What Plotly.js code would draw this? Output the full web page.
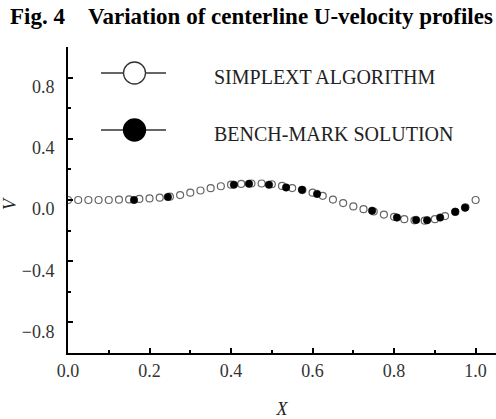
<!DOCTYPE html>
<html>
<head>
<meta charset="utf-8">
<script src="https://cdn.plot.ly/plotly-3.0.1.min.js"></script>
<style>html,body{margin:0;padding:0;background:#fff;}#chart{width:496px;height:419px;}</style>
</head>
<body>
<div id="chart"></div>
<script>
// ---- data ----
const seriesNames = ["SIMPLEXT ALGORITHM", "BENCH-MARK SOLUTION"];
const xSim = [0, 0.025, 0.05, 0.075, 0.1, 0.125, 0.15, 0.175, 0.2, 0.225, 0.25, 0.275, 0.3, 0.325,
  0.35, 0.375, 0.4, 0.425, 0.45, 0.475, 0.5, 0.525, 0.55, 0.575, 0.6, 0.625, 0.65, 0.675,
  0.7, 0.725, 0.75, 0.775, 0.8, 0.825, 0.85, 0.875, 0.9, 0.925, 0.95, 0.975, 1.0];
const vSim = [0, 0, 0, 0, 0, 0.002, 0.004, 0.007, 0.01, 0.015, 0.022, 0.032, 0.048, 0.062,
  0.077, 0.09, 0.1, 0.105, 0.108, 0.108, 0.103, 0.092, 0.078, 0.065, 0.048, 0.027, 0.003, -0.02,
  -0.042, -0.06, -0.075, -0.095, -0.11, -0.125, -0.133, -0.135, -0.125, -0.105, -0.078, -0.048, 0.0];
const xBench = [0.162, 0.245, 0.407, 0.444, 0.493, 0.535, 0.574, 0.611, 0.746, 0.807, 0.854, 0.881, 0.913, 0.950, 0.974];
const vBench = [0.0, 0.02, 0.1, 0.106, 0.1, 0.082, 0.067, 0.04, -0.07, -0.115, -0.13, -0.132, -0.115, -0.077, -0.05];
const xTickVals = [0, 0.2, 0.4, 0.6, 0.8, 1.0];
const xTickText = ["0.0", "0.2", "0.4", "0.6", "0.8", "1.0"];
const yTickVals = [-0.8, -0.4, 0, 0.4, 0.8];
const yTickText = ["\u22120.8", "\u22120.4", "0.0", "0.4", "0.8"];
const titleText = "Fig. 4&nbsp;&nbsp;&nbsp;&nbsp;Variation of centerline U-velocity profiles";

// ---- layout helpers (pixel -> paper) ----
const W = 496, H = 419, ML = 68, MR = 0, MT = 47, MB = 66;
const PW = W - ML - MR, PH = H - MT - MB;
const px = v => (v - ML) / PW;
const py = v => (H - MB - v) / PH;
const serif = "Liberation Serif, Times New Roman, serif";

const traces = [
  {x: xSim, y: vSim, name: seriesNames[0], type: "scatter", mode: "markers",
   marker: {symbol: "circle", size: 7, color: "#fff", line: {color: "#666", width: 1.2}}},
  {x: xBench, y: vBench, name: seriesNames[1], type: "scatter", mode: "markers",
   marker: {symbol: "circle", size: 7.5, color: "#000", line: {color: "#000", width: 0.5}}}
];

const legRows = [73, 130];
const shapes = [];
const annotations = [];
legRows.forEach((row, i) => {
  shapes.push({type: "line", xref: "paper", yref: "paper", x0: px(101), x1: px(166), y0: py(row), y1: py(row),
    line: {color: "#333", width: 1.3}});
  shapes.push({type: "circle", xref: "paper", yref: "paper", x0: px(123.5), x1: px(145.5), y0: py(row + 11), y1: py(row - 11),
    fillcolor: i === 0 ? "#fff" : "#000", line: {color: i === 0 ? "#333" : "#000", width: 1.3}});
  annotations.push({text: seriesNames[i], xref: "paper", yref: "paper", x: px(212), y: py(row + 4),
    xanchor: "left", yanchor: "middle", showarrow: false, font: {family: serif, size: 20, color: "#222"}});
});
annotations.push({text: "<i>V</i>", xref: "paper", yref: "paper", x: px(10), y: py(204), textangle: -90,
  xanchor: "center", yanchor: "middle", showarrow: false, borderpad: 0,
  font: {family: serif, size: 18, color: "#222"}});

const layout = {
  width: W, height: H,
  margin: {l: ML, r: MR, t: MT, b: MB, pad: 0},
  paper_bgcolor: "#fff", plot_bgcolor: "#fff",
  showlegend: false,
  font: {family: serif, color: "#222", size: 18},
  title: {text: titleText, x: 10 / W, xanchor: "left", xref: "container", yref: "container",
    y: 1 - 16 / H, yanchor: "middle", font: {family: serif, size: 23, color: "#000", weight: "bold"}},
  xaxis: {range: [0, 1.05], showgrid: false, zeroline: false, showline: true, linecolor: "#000", linewidth: 2,
    ticks: "inside", ticklen: 5, tickwidth: 2, tickcolor: "#000",
    tickvals: xTickVals, ticktext: xTickText, tickfont: {family: serif, size: 18, color: "#333"},
    minor: {ticks: "inside", ticklen: 3, tickwidth: 2, tickcolor: "#000", dtick: 0.1, tick0: 0, showgrid: false},
    title: {text: "<i>X</i>", font: {family: serif, size: 18, color: "#222"}, standoff: 23}},
  yaxis: {range: [-1, 1], showgrid: false, zeroline: false, showline: true, linecolor: "#000", linewidth: 2,
    ticks: "inside", ticklen: 5, tickwidth: 2, tickcolor: "#000",
    tickvals: yTickVals, ticktext: yTickText, tickfont: {family: serif, size: 18, color: "#333"},
    ticklabelshift: 9, ticklabelstandoff: 8,
    minor: {ticks: "inside", ticklen: 3, tickwidth: 2, tickcolor: "#000", dtick: 0.2, tick0: 0, showgrid: false}},
  shapes: shapes,
  annotations: annotations
};

Plotly.newPlot("chart", traces, layout, {staticPlot: true, displayModeBar: false});
</script>
</body>
</html>
